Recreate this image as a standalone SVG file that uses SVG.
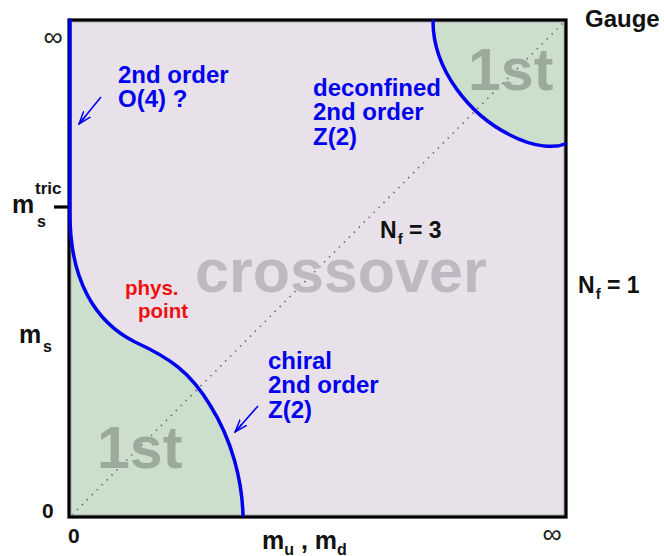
<svg xmlns="http://www.w3.org/2000/svg" width="664" height="556" viewBox="0 0 664 556">
<style>
  text { font-family: "Liberation Sans", Arial, Helvetica, sans-serif; font-weight: bold; }
  .blk { fill: #111; }
  .blue { fill: #0000EE; font-size: 24px; }
  .red { fill: #EE1111; font-size: 20.5px; }
  .big1 { fill: #9CAA9B; font-size: 59px; }
  .cross { fill: #BFB8C0; font-size: 61px; }
  .inf { fill: #222; font-size: 27px; font-weight: normal; text-anchor: middle; }
  .phase { stroke: #0000EE; stroke-width: 3.5; fill: none; stroke-linecap: round; }
  .arrow { stroke: #0000EE; stroke-width: 1.6; fill: none; }
</style>
<defs>
  <marker id="ah" viewBox="0 0 14 10" refX="13" refY="5" markerWidth="14" markerHeight="10" markerUnits="userSpaceOnUse" orient="auto">
    <path d="M0,0.5 L13,5 L0,9.5 M3,5 L13,5" fill="none" stroke="#0000EE" stroke-width="1.5"/>
  </marker>
</defs>
<rect x="0" y="0" width="664" height="556" fill="#FFFFFF"/>

<g id="plot">
  <rect x="69" y="20" width="497" height="497" fill="#E8E1EA"/>
  <path id="first-low" d="M70,215 C70,280 95,322 135,342 C170,358 190,372 210,405 C232,440 242,480 243,517 L69,517 Z" fill="#CCDECC"/>
  <path id="first-high" d="M433,20 C433,70 470,115 510,135 C535,148 555,148 566,144 L566,20 Z" fill="#CCDECC"/>
  <line x1="72" y1="515" x2="563" y2="23" stroke="#666" stroke-width="1.6" stroke-dasharray="1.4 5.6"/>
  <rect x="71" y="22" width="493" height="493" fill="none" stroke="#A8A0AA" stroke-width="1"/>
  <rect x="69" y="20" width="497" height="497" fill="none" stroke="#000" stroke-width="3.2"/>
  <line x1="54" y1="207" x2="69" y2="207" stroke="#000" stroke-width="3.2"/>
  <path class="phase" d="M70,20 L70,215 C70,280 95,322 135,342 C170,358 190,372 210,405 C232,440 242,480 243,515"/>
  <path class="phase" d="M433,21 C433,70 470,115 510,135 C535,148 555,148 565,144"/>
</g>

<g id="connectors">
  <line class="arrow" x1="101" y1="97" x2="79" y2="124" marker-end="url(#ah)"/>
  <line class="arrow" x1="258" y1="406" x2="235" y2="432" marker-end="url(#ah)"/>
</g>

<g id="label-crossover"><text class="cross" x="195" y="292">crossover</text></g>
<g id="label-1st-low"><text class="big1" x="97" y="468">1st</text></g>
<g id="label-1st-high"><text class="big1" x="468" y="90">1st</text></g>

<g id="label-o4">
  <text class="blue" x="118" y="83">2nd order</text>
  <text class="blue" x="118" y="107">O(4) ?</text>
</g>
<g id="label-deconfined">
  <text class="blue" x="313" y="96">deconfined</text>
  <text class="blue" x="313" y="120">2nd order</text>
  <text class="blue" x="313" y="145">Z(2)</text>
</g>
<g id="label-chiral">
  <text class="blue" x="268" y="369">chiral</text>
  <text class="blue" x="268" y="393">2nd order</text>
  <text class="blue" x="268" y="418">Z(2)</text>
</g>
<g id="label-phys">
  <text class="red" x="125" y="295">phys.</text>
  <text class="red" x="138" y="318">point</text>
</g>

<g id="label-gauge"><text class="blk" x="585" y="27" font-size="24">Gauge</text></g>
<g id="label-nf3"><text class="blk" x="380" y="238" font-size="23">N<tspan font-size="15" dx="1" dy="6">f</tspan><tspan dy="-6"> = 3</tspan></text></g>
<g id="label-nf1"><text class="blk" x="578" y="293" font-size="23">N<tspan font-size="15" dx="1" dy="6">f</tspan><tspan dy="-6"> = 1</tspan></text></g>

<g id="axis-labels">
  <text class="inf" x="53" y="46">∞</text>
  <text class="inf" x="552" y="543">∞</text>
  <text class="blk" x="12" y="213" font-size="25">m</text>
  <text class="blk" x="35" y="194" font-size="17">tric</text>
  <text class="blk" x="37" y="227" font-size="16">s</text>
  <text class="blk" x="19" y="343" font-size="25">m</text>
  <text class="blk" x="43" y="352" font-size="16">s</text>
  <text class="blk" x="42" y="518" font-size="21">0</text>
  <text class="blk" x="68" y="543" font-size="21">0</text>
  <text class="blk" x="262" y="549" font-size="25">m<tspan font-size="16" dy="6">u</tspan><tspan dy="-6"> , m</tspan><tspan font-size="16" dy="6">d</tspan></text>
</g>
</svg>
